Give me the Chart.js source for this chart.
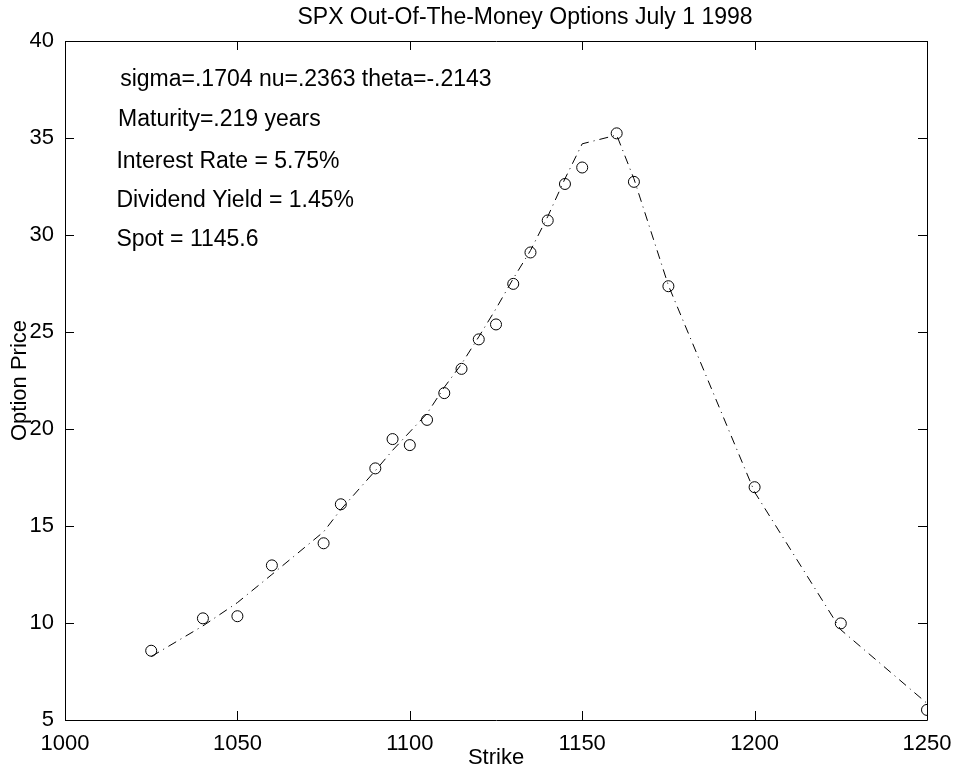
<!DOCTYPE html>
<html>
<head>
<meta charset="utf-8">
<script src="https://cdn.jsdelivr.net/npm/chart.js@4.4.0/dist/chart.umd.min.js"></script>
<style>
    body { margin: 0; background: #fff; }
    #wrap { width: 958px; height: 771px; }
</style>
</head>
<body>
<div id="wrap"><canvas id="graphic" width="958" height="771"></canvas></div>
<script>
// strikes and prices
const strikes = [1025, 1040, 1050, 1060, 1075, 1080, 1090, 1095, 1100, 1105, 1110, 1115, 1120,
    1125, 1130, 1135, 1140, 1145, 1150, 1160, 1165, 1175, 1200, 1225, 1250];
const marketPrices = [8.57, 10.24, 10.35, 12.97, 14.11, 16.12, 17.97, 19.48, 19.17, 20.47, 21.85, 23.10, 24.62,
    25.39, 27.48, 29.10, 30.75, 32.63, 33.48, 35.24, 32.74, 27.36, 17.0, 9.98, 5.52];
const modelPrices = [8.27, 9.85, 11.05, 12.5, 14.7, 15.85, 17.85, 18.9, 19.85, 20.8, 22.15, 23.35, 24.75,
    26.2, 27.75, 29.2, 30.95, 32.9, 34.7, 35.15, 32.9, 27.4, 16.75, 9.65, 5.86];
const xTicks = [1000, 1050, 1100, 1150, 1200, 1250];
const yTicks = [5, 10, 15, 20, 25, 30, 35, 40];
const chartTitle = 'SPX Out-Of-The-Money Options July 1 1998';
const notes = [
    'sigma=.1704 nu=.2363 theta=-.2143',
    'Maturity=.219 years',
    'Interest Rate = 5.75%',
    'Dividend Yield = 1.45%',
    'Spot = 1145.6'
];

const FONT = "'Liberation Sans', Arial, Helvetica, sans-serif";

const boxPlugin = {
    id: 'boxPlugin',
    afterDatasetsDraw(chart) {
        const ctx = chart.ctx;
        const area = chart.chartArea;
        const xs = chart.scales.x;
        const ys = chart.scales.y;
        const tick = 9;
        ctx.save();
        ctx.strokeStyle = '#000';
        ctx.lineWidth = 1;
        ctx.beginPath();
        ctx.rect(Math.round(area.left) + 0.5, Math.round(area.top) + 0.5,
            Math.round(area.right - area.left), Math.round(area.bottom - area.top));
        xTicks.forEach((v) => {
            const px = Math.round(xs.getPixelForValue(v)) + 0.5;
            ctx.moveTo(px, area.bottom);
            ctx.lineTo(px, area.bottom - tick);
            ctx.moveTo(px, area.top);
            ctx.lineTo(px, area.top + tick);
        });
        yTicks.forEach((v) => {
            const py = Math.round(ys.getPixelForValue(v)) + 0.5;
            ctx.moveTo(area.left, py);
            ctx.lineTo(area.left + tick, py);
            ctx.moveTo(area.right, py);
            ctx.lineTo(area.right - tick, py);
        });
        ctx.stroke();

        // title
        ctx.fillStyle = '#000';
        ctx.font = '23px ' + FONT;
        ctx.textAlign = 'center';
        ctx.textBaseline = 'middle';
        ctx.fillText(chartTitle, 525, 18);

        // parameter notes, placed in data coordinates
        const notePos = [[1016, 37.67], [1015.4, 35.61], [1014.9, 33.43], [1014.9, 31.42], [1014.9, 29.42]];
        ctx.textAlign = 'left';
        ctx.textBaseline = 'alphabetic';
        notes.forEach((txt, i) => {
            ctx.fillText(txt, xs.getPixelForValue(notePos[i][0]), ys.getPixelForValue(notePos[i][1]));
        });
        ctx.restore();
    }
};

const graphic = document.getElementById('graphic');
new Chart(graphic, {
    type: 'scatter',
    data: {
        datasets: [
            {
                label: 'model',
                data: strikes.map((k, i) => ({ x: k, y: modelPrices[i] })),
                showLine: true,
                borderColor: '#000',
                borderWidth: 1,
                borderDash: [9, 5, 1, 5],
                pointRadius: 0,
                fill: false
            },
            {
                label: 'market',
                data: strikes.map((k, i) => ({ x: k, y: marketPrices[i] })),
                showLine: false,
                pointStyle: 'circle',
                pointRadius: 5.5,
                pointBorderColor: '#000',
                pointBackgroundColor: 'rgba(0,0,0,0)',
                pointBorderWidth: 1,
                clip: 0
            }
        ]
    },
    options: {
        responsive: false,
        animation: false,
        events: [],
        layout: { padding: { top: 41, right: 31, left: 0, bottom: 0 } },
        plugins: {
            legend: { display: false },
            tooltip: { enabled: false },
            title: { display: false }
        },
        scales: {
            x: {
                type: 'linear',
                min: 1000,
                max: 1250,
                afterFit: (s) => { s.height = 51; },
                afterBuildTicks: (s) => { s.ticks = xTicks.map((v) => ({ value: v })); },
                grid: { display: false },
                border: { display: false },
                ticks: {
                    color: '#000',
                    padding: 3,
                    maxRotation: 0,
                    callback: (v) => String(v),
                    font: { family: FONT, size: 22 }
                },
                title: {
                    display: true,
                    text: 'Strike',
                    color: '#000',
                    padding: { top: 0, bottom: 0 },
                    font: { family: FONT, size: 22 }
                }
            },
            y: {
                type: 'linear',
                min: 5,
                max: 40,
                afterFit: (s) => { s.width = 65; },
                afterBuildTicks: (s) => { s.ticks = yTicks.map((v) => ({ value: v })); },
                grid: { display: false },
                border: { display: false },
                ticks: {
                    color: '#000',
                    padding: 3,
                    callback: (v) => String(v),
                    font: { family: FONT, size: 22 }
                },
                title: {
                    display: true,
                    text: 'Option Price',
                    color: '#000',
                    padding: { top: 7, bottom: 0 },
                    font: { family: FONT, size: 22 }
                }
            }
        }
    },
    plugins: [boxPlugin]
});
</script>
</body>
</html>
